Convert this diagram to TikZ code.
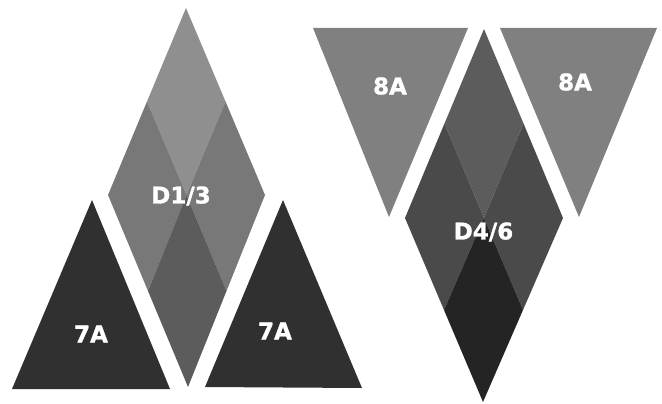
\documentclass[tikz,border=0pt]{standalone}
\usepackage{fontspec}
\setmainfont{DejaVu Sans}
\newfontfamily\heavyfont[FakeBold=1.2]{DejaVu Sans Bold}
\usetikzlibrary{calc}
\begin{document}
\begin{tikzpicture}[x=1pt,y=-1pt,
  lbl/.style={text=white,font=\heavyfont\fontsize{23}{23}\selectfont,inner sep=0pt}]
\useasboundingbox (0,0) rectangle (662,404);
\fill[white] (0,0) rectangle (662,404);
% ---- left diamond D1/3
\coordinate (aT) at (186,8);
\coordinate (aL) at (108,195);
\coordinate (aB) at (188,387);
\coordinate (aR) at (265,195);
\coordinate (aC) at ($(aL)!0.5!(aR)$);
\fill[black!44] (aT) -- ($(aT)!0.5!(aL)$) -- (aC) -- ($(aT)!0.5!(aR)$) -- cycle;
\fill[black!53] ($(aT)!0.5!(aL)$) -- (aL) -- ($(aL)!0.5!(aB)$) -- (aC) -- cycle;
\fill[black!53] ($(aT)!0.5!(aR)$) -- (aC) -- ($(aR)!0.5!(aB)$) -- (aR) -- cycle;
\fill[black!64] (aC) -- ($(aL)!0.5!(aB)$) -- (aB) -- ($(aR)!0.5!(aB)$) -- cycle;
\node[lbl] (d13) at (181,196) {D1/3};
% ---- left 7A triangles
\fill[black!81] (92,200) -- (12,389) -- (170,389) -- cycle;
\node[lbl] (t7a) at (91,334) {7A};
\fill[black!81] (283,200) -- (205,387) -- (362,388) -- cycle;
\node[lbl] (t7b) at (275,331) {7A};
% ---- right diamond D4/6
\coordinate (bT) at (484,29);
\coordinate (bL) at (405,218);
\coordinate (bB) at (483,402);
\coordinate (bR) at (563,218);
\coordinate (bC) at ($(bL)!0.5!(bR)$);
\fill[black!64] (bT) -- ($(bT)!0.5!(bL)$) -- (bC) -- ($(bT)!0.5!(bR)$) -- cycle;
\fill[black!71] ($(bT)!0.5!(bL)$) -- (bL) -- ($(bL)!0.5!(bB)$) -- (bC) -- cycle;
\fill[black!71] ($(bT)!0.5!(bR)$) -- (bC) -- ($(bR)!0.5!(bB)$) -- (bR) -- cycle;
\fill[black!86] (bC) -- ($(bL)!0.5!(bB)$) -- (bB) -- ($(bR)!0.5!(bB)$) -- cycle;
\node[lbl] (d46) at (483.5,232) {D4/6};
% ---- 8A triangles
\fill[black!50] (313,28) -- (468,28) -- (389,217) -- cycle;
\node[lbl] (e8a) at (390,86) {8A};
\fill[black!50] (500,28) -- (657,28) -- (579,217) -- cycle;
\node[lbl] (e8b) at (575,82) {8A};
\end{tikzpicture}
\end{document}
